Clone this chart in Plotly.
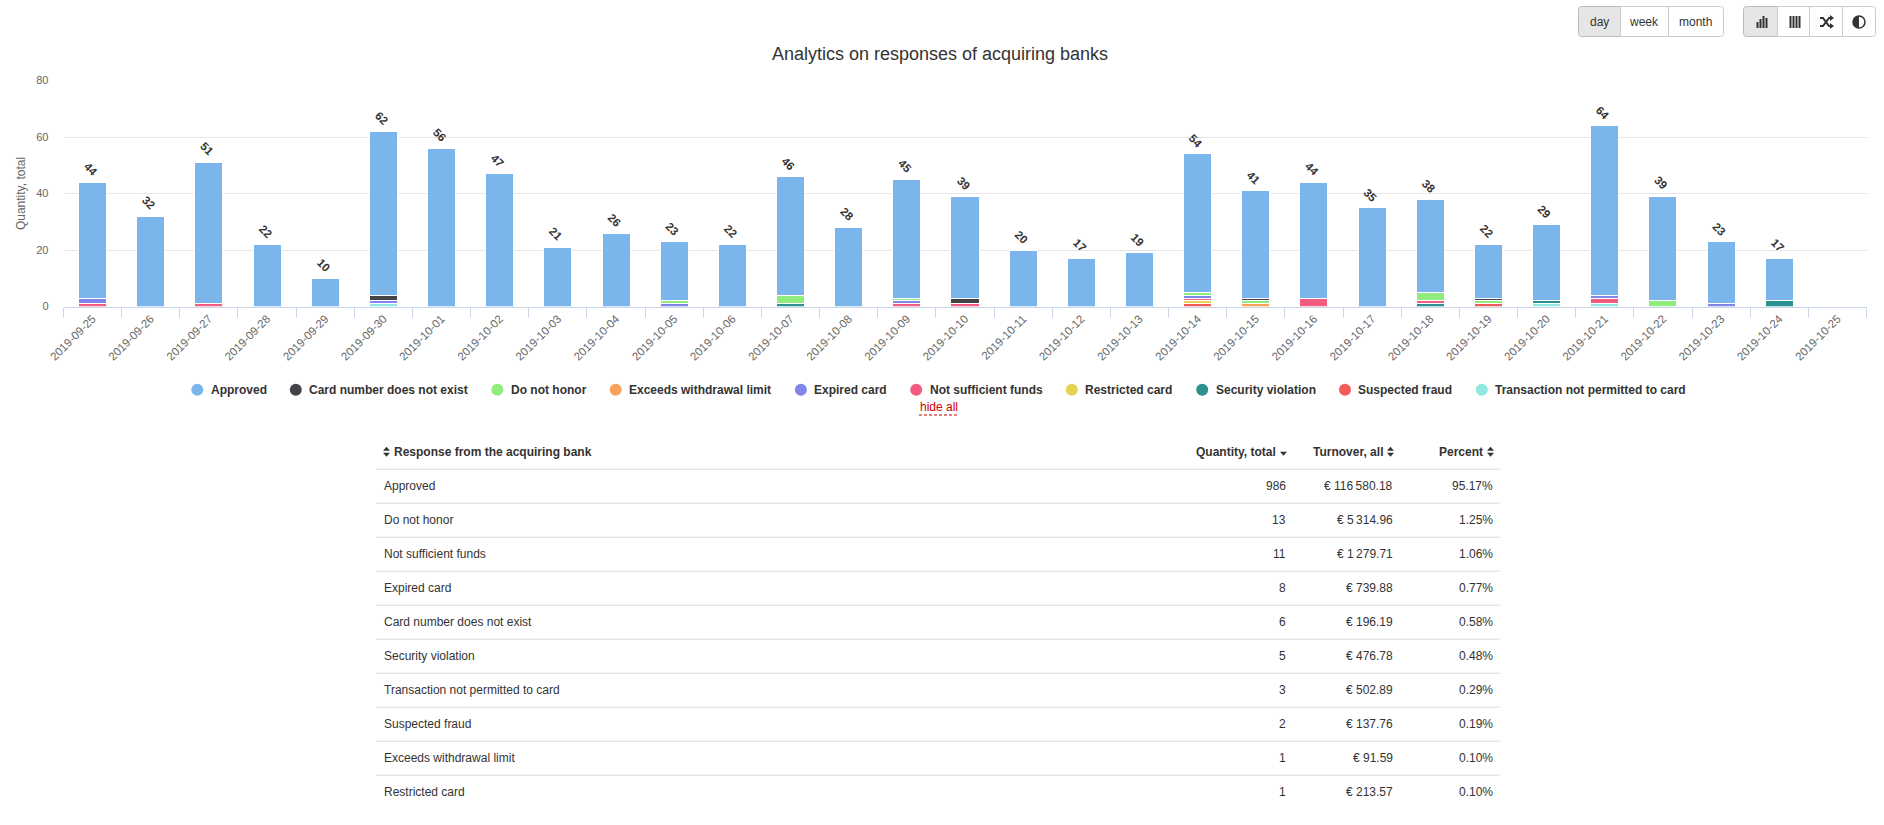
import plotly.graph_objects as go

W, H = 1884, 825
FONT = "Liberation Sans"

dates = ["2019-09-25","2019-09-26","2019-09-27","2019-09-28","2019-09-29","2019-09-30","2019-10-01","2019-10-02",
         "2019-10-03","2019-10-04","2019-10-05","2019-10-06","2019-10-07","2019-10-08","2019-10-09","2019-10-10",
         "2019-10-11","2019-10-12","2019-10-13","2019-10-14","2019-10-15","2019-10-16","2019-10-17","2019-10-18",
         "2019-10-19","2019-10-20","2019-10-21","2019-10-22","2019-10-23","2019-10-24","2019-10-25"]

approved =     [41,32,50,22,10,58,56,47,21,26,21,22,42,28,42,36,20,17,19,49,38,41,35,33,19,27,60,37,22,15,0]
card_number =  [0,0,0,0,0,2,0,0,0,0,0,0,0,0,0,2,0,0,0,0,1,0,0,0,1,0,0,0,0,0,0]
do_not_honor = [0,0,0,0,0,0,0,0,0,0,1,0,3,0,1,0,0,0,0,1,1,0,0,3,1,0,0,2,0,0,0]
exceeds =      [0,0,0,0,0,0,0,0,0,0,0,0,0,0,0,0,0,0,0,0,1,0,0,0,0,0,0,0,0,0,0]
expired =      [2,0,0,0,0,1,0,0,0,0,1,0,0,0,1,0,0,0,0,1,0,0,0,0,0,0,1,0,1,0,0]
not_suff =     [1,0,1,0,0,0,0,0,0,0,0,0,0,0,1,1,0,0,0,1,0,3,0,1,0,0,2,0,0,0,0]
restricted =   [0,0,0,0,0,0,0,0,0,0,0,0,0,0,0,0,0,0,0,1,0,0,0,0,0,0,0,0,0,0,0]
security =     [0,0,0,0,0,0,0,0,0,0,0,0,1,0,0,0,0,0,0,0,0,0,0,1,0,1,0,0,0,2,0]
suspected =    [0,0,0,0,0,0,0,0,0,0,0,0,0,0,0,0,0,0,0,1,0,0,0,0,1,0,0,0,0,0,0]
transaction =  [0,0,0,0,0,1,0,0,0,0,0,0,0,0,0,0,0,0,0,0,0,0,0,0,0,1,1,0,0,0,0]

series_names = ["Approved","Card number does not exist","Do not honor","Exceeds withdrawal limit","Expired card",
                "Not sufficient funds","Restricted card","Security violation","Suspected fraud",
                "Transaction not permitted to card"]
series_values = [approved,card_number,do_not_honor,exceeds,expired,not_suff,restricted,security,suspected,transaction]
series_colors = ["#7cb5ec","#434348","#90ed7d","#f7a35c","#8085e9","#f15c80","#e4d354","#2b908f","#f45b5b","#91e8e1"]

table_header = ["Response from the acquiring bank","Quantity, total","Turnover, all","Percent"]
table_names = ["Approved","Do not honor","Not sufficient funds","Expired card","Card number does not exist",
               "Security violation","Transaction not permitted to card","Suspected fraud","Exceeds withdrawal limit",
               "Restricted card"]
table_qty = ["986","13","11","8","6","5","3","2","1","1"]
table_turnover = ["€ 116\u2009580.18","€ 5\u2009314.96","€ 1\u2009279.71","€ 739.88","€ 196.19","€ 476.78",
                  "€ 502.89","€ 137.76","€ 91.59","€ 213.57"]
table_percent = ["95.17%","1.25%","1.06%","0.77%","0.58%","0.48%","0.29%","0.19%","0.10%","0.10%"]

totals = [sum(v[i] for v in series_values) for i in range(len(dates))]

def px(x): return x / W
def py(y): return 1 - y / H

fig = go.Figure()
# stack: last series at the bottom
for name, vals, col in reversed(list(zip(series_names, series_values, series_colors))):
    fig.add_trace(go.Bar(x=dates, y=vals, name=name, marker=dict(color=col, line=dict(color="#ffffff", width=1)),
                         width=0.482, showlegend=False))

shapes, annotations = [], []

def text(x, y, s, size=12, color="#333333", anchor="left", bold=False):
    annotations.append(dict(xref="paper", yref="paper", x=px(x), y=py(y), text=f"<b>{s}</b>" if bold else s,
                            showarrow=False, xanchor=anchor, yanchor="middle", borderpad=0, borderwidth=0,
                            font=dict(family=FONT, size=size, color=color)))

def path(d, fill="#333333", line=None, lw=0):
    shapes.append(dict(type="path", xref="paper", yref="paper", path=d, fillcolor=fill,
                       line=dict(color=line or "rgba(0,0,0,0)", width=lw), layer="above"))

def P(cmd, *pts):
    return cmd + " ".join(f"{px(x):.6f},{py(y):.6f}" for x, y in pts)

def rrect(x0, y0, x1, y1, rl=0, rr=0, fill="#ffffff", line="#cccccc"):
    d = (P("M", (x0 + rl, y0)) + P("L", (x1 - rr, y0)) + P("Q", (x1, y0), (x1, y0 + rr)) + P("L", (x1, y1 - rr))
         + P("Q", (x1, y1), (x1 - rr, y1)) + P("L", (x0 + rl, y1)) + P("Q", (x0, y1), (x0, y1 - rl))
         + P("L", (x0, y0 + rl)) + P("Q", (x0, y0), (x0 + rl, y0)) + "Z")
    path(d, fill=fill, line=line, lw=1)

def rect(x0, y0, x1, y1, fill="#333333"):
    shapes.append(dict(type="rect", xref="paper", yref="paper", x0=px(x0), x1=px(x1), y0=py(y0), y1=py(y1),
                       fillcolor=fill, line=dict(width=0), layer="above"))

# stack total labels
for d, t in zip(dates, totals):
    if t:
        annotations.append(dict(x=d, y=t, xref="x", yref="y", text=f"<b>{t}</b>", showarrow=False, textangle=45,
                                yshift=13, xshift=-2, font=dict(family=FONT, size=11.5, color="#333333")))

# legend row
legend_marker_x = [197.3, 295.8, 497.3, 615.7, 800.9, 916.2, 1071.8, 1202.2, 1345, 1481.8]
for mx, name, col in zip(legend_marker_x, series_names, series_colors):
    shapes.append(dict(type="circle", xref="paper", yref="paper", x0=px(mx - 6), x1=px(mx + 6), y0=py(383.7), y1=py(395.7),
                       fillcolor=col, line=dict(width=0), layer="above"))
    text(mx + 13.4, 389.7, name, bold=True)

# period buttons
rrect(1578.5, 6.5, 1620.5, 36.5, rl=3, fill="#e6e6e6", line="#bbbbbb")
rrect(1620.5, 6.5, 1668.5, 36.5)
rrect(1668.5, 6.5, 1723.5, 36.5, rr=3)
text(1599, 21.5, "day", anchor="center")
text(1644, 21.5, "week", anchor="center")
text(1695.5, 21.5, "month", anchor="center")
# view buttons
rrect(1743.5, 6.5, 1777.5, 36.5, rl=3, fill="#e6e6e6", line="#bbbbbb")
rrect(1777.5, 6.5, 1809.5, 36.5)
rrect(1809.5, 6.5, 1842.5, 36.5)
rrect(1842.5, 6.5, 1875.5, 36.5, rr=3)
for x, top in [(1756.5, 22), (1759.5, 19), (1762.5, 16), (1765.5, 18)]:
    rect(x, top, x + 2, 28)
for x in (1789.5, 1792.5, 1795.5, 1798.5):
    rect(x, 16, x + 2, 28)
rnd = (P("M", (1820, 18)) + P("L", (1823, 18)) + P("L", (1829, 26)) + P("L", (1831, 26))
       + P("M", (1820, 26)) + P("L", (1823, 26)) + P("L", (1829, 18)) + P("L", (1831, 18)))
path(rnd, fill="rgba(0,0,0,0)", line="#333333", lw=2)
path(P("M", (1830, 15)) + P("L", (1834, 18)) + P("L", (1830, 21)) + "Z")
path(P("M", (1830, 23)) + P("L", (1834, 26)) + P("L", (1830, 29)) + "Z")
shapes.append(dict(type="circle", xref="paper", yref="paper", x0=px(1853), x1=px(1865), y0=py(16), y1=py(28),
                   fillcolor="#ffffff", line=dict(color="#333333", width=1.5), layer="above"))
path(P("M", (1859, 16)) + P("C", (1851, 16), (1851, 28), (1859, 28)) + "Z")

# hide all
text(938.5, 407.5, "hide all", color="#cc0000", anchor="center")
shapes.append(dict(type="line", xref="paper", yref="paper", x0=px(919), x1=px(958), y0=py(415), y1=py(415),
                   line=dict(color="#cc0000", width=1, dash="3px,2px"), layer="above"))

# table
def sort_icon(x, yc, both=True):
    if both:
        path(P("M", (x, yc - 1)) + P("L", (x + 7, yc - 1)) + P("L", (x + 3.5, yc - 5)) + "Z")
    path(P("M", (x, yc + 1)) + P("L", (x + 7, yc + 1)) + P("L", (x + 3.5, yc + 5)) + "Z")

TX0, TX1 = 376, 1500.5
HY, R0, STEP = 451.7, 485.7, 34
sort_icon(383, HY)
text(394, HY, table_header[0], bold=True)
text(1276, HY, table_header[1], anchor="right", bold=True)
sort_icon(1280, HY - 1, both=False)
text(1382.7, HY, table_header[2], anchor="right", bold=True)
sort_icon(1387, HY)
text(1483, HY, table_header[3], anchor="right", bold=True)
sort_icon(1487, HY)
for i, (n, q, t, p) in enumerate(zip(table_names, table_qty, table_turnover, table_percent)):
    y = R0 + i * STEP
    shapes.append(dict(type="line", xref="paper", yref="paper", x0=px(TX0), x1=px(TX1), y0=py(y - 16.5), y1=py(y - 16.5),
                       line=dict(color="#dddddd", width=1), layer="above"))
    text(384, y, n)
    text(1286, y, q, anchor="right")
    text(1392.7, y, t, anchor="right")
    text(1492.7, y, p, anchor="right")

fig.update_layout(
    width=W, height=H, autosize=False, margin=dict(l=0, r=0, t=0, b=0), paper_bgcolor="#ffffff", plot_bgcolor="#ffffff",
    barmode="stack", bargap=0.5, showlegend=False,
    title=dict(text="Analytics on responses of acquiring banks", x=940 / W, xanchor="center", xref="paper",
               y=py(54), yanchor="middle", font=dict(family=FONT, size=18, color="#333333")),
    xaxis=dict(domain=[px(63.5), px(1866.5)], type="category", categoryorder="array", categoryarray=dates,
               range=[-0.5, 30.5], tickson="boundaries", ticks="outside", ticklen=10, tickwidth=1, tickcolor="#ccd6eb",
               showline=True, linecolor="#ccd6eb", linewidth=1, showgrid=False, tickangle=-45, automargin=False,
               tickfont=dict(family=FONT, size=11.5, color="#666666")),
    yaxis=dict(domain=[py(306.5), py(80.5)], range=[0, 80], tickvals=[0, 20, 40, 60, 80], showgrid=True,
               gridcolor="#e6e6e6", gridwidth=1, zeroline=False, showline=False, ticks="", automargin=False,
               ticklabelstandoff=14, tickfont=dict(family=FONT, size=11, color="#666666"),
               title=dict(text="Quantity, total", standoff=8, font=dict(family=FONT, size=12, color="#666666"))),
    shapes=shapes, annotations=annotations,
)
fig.write_html("out.html", config=dict(displayModeBar=False),
               post_script="document.body.style.margin='0';document.body.style.overflow='hidden';")
